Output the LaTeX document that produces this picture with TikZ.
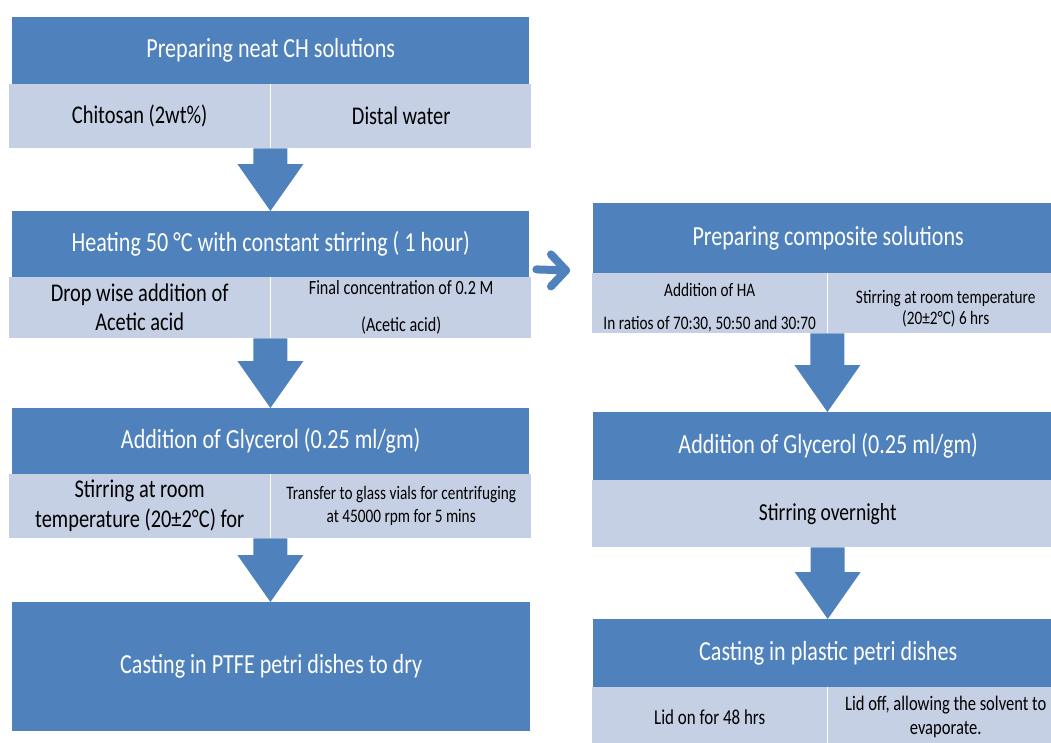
\documentclass[tikz,border=0pt]{standalone}
\usepackage{fontspec}
\setmainfont{Carlito}[FakeStretch=0.8]
\usetikzlibrary{calc}
\definecolor{hblue}{RGB}{79,129,189}
\definecolor{cellc}{RGB}{198,208,228}
\newcommand{\fsz}[2]{\fontsize{#1}{#2}\selectfont}
\newcommand{\barrow}[2]{%
  \fill[hblue] let \p1=#1, \p2=#2 in
    (\x1-17pt,\y1) -- (\x1+17pt,\y1) -- (\x1+17pt,\y2+47pt) -- (\x1+33pt,\y2+47pt)
    -- (\x1,\y2) -- (\x1-33pt,\y2+47pt) -- (\x1-17pt,\y2+47pt) -- cycle;}
\begin{document}
\begin{tikzpicture}[x=1pt,y=-1pt,
  hdr/.style={fill=hblue, text=white, inner sep=0pt, anchor=north west, align=center, font=\fsz{27.6}{31}},
  cell/.style={fill=cellc, text=black, inner sep=0pt, anchor=north west, align=center},
  ctext/.style={text=black, inner sep=0pt, align=center},
  harrow/.style={draw=hblue, line width=8pt, line cap=round, line join=round}]
\useasboundingbox (0,0) rectangle (1051,742);

% ---------- left column ----------
\node[hdr, minimum width=517, minimum height=67] (h1) at (12,17) {Preparing neat CH solutions};
\node[cell, minimum width=261, minimum height=64, font=\fsz{25.5}{29}] (c1a) at (9,84) {Chitosan (2wt\%)};
\node[cell, minimum width=260, minimum height=64, font=\fsz{25.5}{29}] (c1b) at (271,84) {Distal water};

\node[hdr, minimum width=517, minimum height=66] (h2) at (12,211) {Heating 50 °C with constant stirring ( 1 hour)};
\node[cell, minimum width=261, minimum height=61, font=\fsz{25.5}{29}] (c2a) at (9,277) {Drop wise addition of\\Acetic acid};
\node[cell, minimum width=260, minimum height=61, font=\fsz{20.2}{23}] (c2b) at (271,277) {Final concentration of 0.2 M\\[14pt](Acetic acid)};

\node[hdr, minimum width=517, minimum height=66] (h3) at (12,408) {Addition of Glycerol (0.25 ml/gm)};
\node[cell, minimum width=261, minimum height=64, font=\fsz{25.5}{30}] (c3a) at (9,474) {Stirring at room\\temperature (20±2°C) for};
\node[cell, minimum width=260, minimum height=64, font=\fsz{19.1}{23}] (c3b) at (271,474) {Transfer to glass vials for centrifuging\\at 45000 rpm for 5 mins};

\node[hdr, minimum width=518, minimum height=129] (h4) at (12,602) {Casting in PTFE petri dishes to dry};

% ---------- right column ----------
\node[hdr, minimum width=470, minimum height=70] (hr1) at (593,203) {Preparing composite solutions};
\node[cell, minimum width=235, minimum height=60] (cr1a) at (592,273) {};
\node[ctext, font=\fsz{19.1}{33}] (tr1a) at ($(cr1a.center)+(0,4)$) {Addition of HA\\In ratios of 70:30, 50:50 and 30:70};
\node[cell, minimum width=235, minimum height=60] (cr1b) at (828,273) {};
\node[ctext, font=\fsz{19.1}{21}] (tr1b) at ($(cr1b.center)+(0,6)$) {Stirring at room temperature\\(20±2°C) 6 hrs};

\node[hdr, minimum width=470, minimum height=68] (hr2) at (593,412) {Addition of Glycerol (0.25 ml/gm)};
\node[cell, minimum width=471, minimum height=67, font=\fsz{24.4}{28}] (cr2) at (592,480) {Stirring overnight};

\node[hdr, minimum width=470, minimum height=68] (hr3) at (593,619) {Casting in plastic petri dishes};
\node[cell, minimum width=235, minimum height=60, font=\fsz{21.2}{24}] (cr3a) at (592,687) {Lid on for 48 hrs};
\node[cell, minimum width=235, minimum height=60, font=\fsz{20.7}{24}] (cr3b) at (828,687) {Lid off, allowing the solvent to\\evaporate.};

% ---------- block arrows ----------
\barrow{(c1a.south east)}{(h2.north)}
\barrow{(c2a.south east)}{(h3.north)}
\barrow{(c3a.south east)}{(h4.north)}
\barrow{(cr1a.south east)}{(hr2.north)}
\barrow{(cr2.south)}{(hr3.north)}

% ---------- horizontal arrow ----------
\coordinate (ha1) at ($(h2.south east)+(7,-8)$);
\coordinate (ha2) at ($(hr1.south west)+(-27,-3)$);
\draw[harrow] (ha1) -- (ha2);
\draw[harrow] ($(ha2)+(-15,-16)$) -- (ha2) -- ($(ha2)+(-15,16)$);
\end{tikzpicture}
\end{document}
